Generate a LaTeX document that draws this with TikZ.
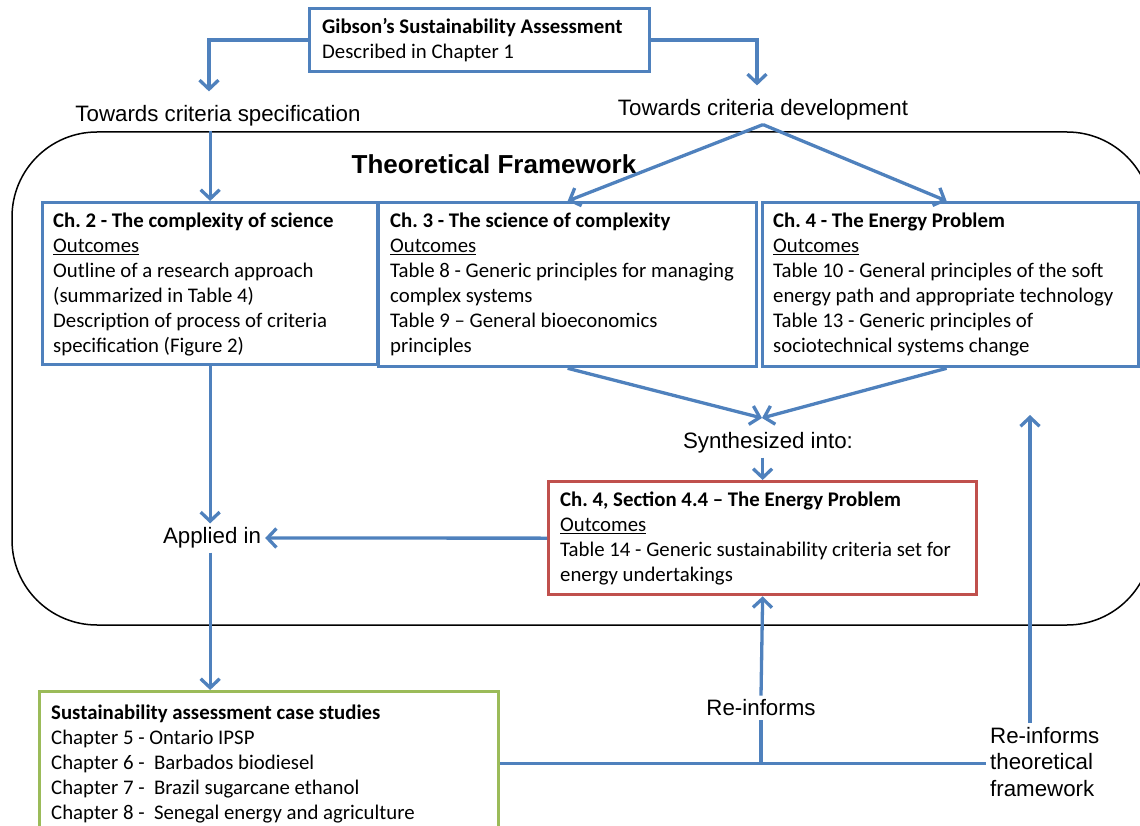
\documentclass[tikz,border=0pt]{standalone}
\usepackage{fontspec}
\setmainfont{Carlito}
\newfontfamily\arialf{Liberation Sans}
\usetikzlibrary{arrows.meta,calc}
\definecolor{lblue}{RGB}{79,129,189}
\definecolor{lred}{RGB}{192,80,77}
\definecolor{lgreen}{RGB}{155,187,89}
\frenchspacing
\begin{document}
\begin{tikzpicture}[x=1pt,y=-1pt,
 box/.style={draw=lblue, line width=3.3pt, anchor=north west, inner sep=0pt},
 btxt/.style={anchor=west, align=left, inner sep=0pt, font=\fontsize{20.8}{25}\selectfont},
 lbl/.style={font=\arialf\fontsize{22.3}{26.5}\selectfont, inner sep=4pt},
 arr/.style={draw=lblue, line width=3.3pt, -{Straight Barb[length=9pt,width=19pt]}},
 conn/.style={draw=lblue, line width=3.3pt}
]
\useasboundingbox (0,0) rectangle (1140,826);
\draw[line width=1.5pt, rounded corners=85pt] (12,132) rectangle (1152,625);

% boxes
\node[box, minimum width=340pt, minimum height=63pt] (top) at (308,7) {};
\node[btxt] (topt) at ([xshift=14pt]top.west) {\textbf{Gibson's Sustainability Assessment}\\Described in Chapter 1};

\node[box, minimum width=335pt, minimum height=162pt] (ch2) at (41,201) {};
\node[btxt] (ch2t) at ([xshift=12pt,yshift=-1pt]ch2.west) {\textbf{Ch. 2 - The complexity of science}\\\underline{Outcomes}\\Outline of a research approach\\(summarized in Table 4)\\Description of process of criteria\\specification (Figure 2)};

\node[box, minimum width=378pt, minimum height=164pt] (ch3) at (377,201) {};
\node[btxt] (ch3t) at ([xshift=13pt]ch3.west) {\textbf{Ch. 3 - The science of complexity}\\\underline{Outcomes}\\Table 8 - Generic principles for managing\\complex systems\\Table 9 -- General bioeconomics\\principles};

\node[box, minimum width=376pt, minimum height=164pt] (ch4) at (761,201) {};
\node[btxt] (ch4t) at ([xshift=12pt]ch4.west) {\textbf{Ch. 4 - The Energy Problem}\\\underline{Outcomes}\\Table 10 - General principles of the soft\\energy path and appropriate technology\\Table 13 - Generic principles of\\sociotechnical systems change};

\node[box, draw=lred, minimum width=428pt, minimum height=113pt] (red) at (547,480) {};
\node[btxt] (redt) at ([xshift=13pt]red.west) {\textbf{Ch. 4, Section 4.4 -- The Energy Problem}\\\underline{Outcomes}\\Table 14 - Generic sustainability criteria set for\\energy undertakings};

\node[box, draw=lgreen, minimum width=459pt, minimum height=144pt] (green) at (38,690) {};
\node[btxt] (greent) at ([xshift=13pt]green.west) {\textbf{Sustainability assessment case studies}\\Chapter 5 - Ontario IPSP\\Chapter 6 - \ Barbados biodiesel\\Chapter 7 - \ Brazil sugarcane ethanol\\Chapter 8 - \ Senegal energy and agriculture};

% labels
\node[lbl] (tcs) at (218,116) {Towards criteria specification};
\node[lbl] (tcd) at (763,110) {Towards criteria development};
\node[font=\arialf\bfseries\fontsize{26}{30}\selectfont, inner sep=2pt] (tf) at (494,164) {Theoretical Framework};
\node[lbl] (syn) at (768,443) {Synthesized into:};
\node[lbl] (app) at (212,538) {Applied in};
\node[lbl] (rei) at (761,708) {Re-informs};
\node[lbl, align=left, anchor=west] (rtf) at (986,762) {Re-informs\\theoretical\\framework};

% connectors
\draw[arr, shorten >=10pt] (top.west) -| ([xshift=-9pt]tcs.north);
\draw[arr, shorten >=10pt] (top.east) -| ([xshift=-6pt]tcd.north);
\draw[arr] (tcs.south -| ch2.north) -- (ch2.north);
\draw[arr] (tcd.south) -- (ch3.north);
\draw[arr] (tcd.south) -- ([xshift=-4pt]ch4.north);
\coordinate (conv) at (762,418);
\draw[arr] (ch3.south) -- (conv);
\draw[arr] ([xshift=-4pt]ch4.south) -- (conv);
\draw[arr] (syn.south -| red.north) -- (red.north);
\draw[arr] (red.west) -- (app.east);
\draw[arr] (ch2.south) -- (ch2.south |- app.north);
\draw[arr] (app.south -| ch2.south) -- (ch2.south |- green.north);
\draw[conn] (green.east) -- (green.east -| rtf.west);
\draw[conn] (rei.south) -- (rei.south |- green.east);
\draw[arr] (rei.north) -- (red.south);
\coordinate (rtop) at (1030,415);
\draw[arr] (rtf.north -| rtop) -- (rtop);
\end{tikzpicture}
\end{document}
